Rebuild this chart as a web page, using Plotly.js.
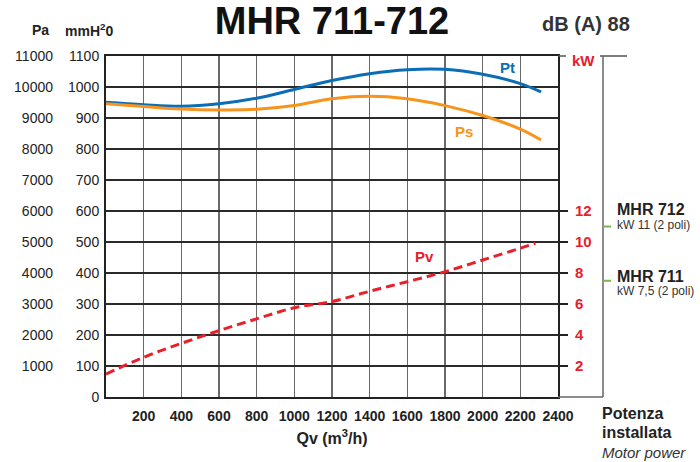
<!DOCTYPE html>
<html><head><meta charset="utf-8">
<script src="https://cdn.plot.ly/plotly-3.0.1.min.js"></script>
<style>html,body{margin:0;padding:0;background:#fff}#c{width:700px;height:462px}</style>
</head><body><div id="c"></div>
<script>
// ---- data ----
const flowP = [0, 200, 400, 600, 800, 1000, 1200, 1400, 1600, 1800, 2000, 2200, 2310];
const ptVals = [951, 943, 938, 946, 964, 992, 1021, 1043, 1056, 1057, 1041, 1011, 984];
const psVals = [946, 937, 929, 926, 928, 940, 962, 970, 962, 940, 908, 864, 829];
const flowPv = [0, 200, 400, 600, 800, 1000, 1200, 1400, 1600, 1800, 2000, 2200, 2280];
const pvVals = [74, 128, 173, 214, 252, 288, 308, 341, 372, 404, 442, 480, 496];
const xTicks = [200, 400, 600, 800, 1000, 1200, 1400, 1600, 1800, 2000, 2200, 2400];
const mmTicks = [0, 100, 200, 300, 400, 500, 600, 700, 800, 900, 1000, 1100];
const paTicks = [1000, 2000, 3000, 4000, 5000, 6000, 7000, 8000, 9000, 10000, 11000];
const kwTicks = [2, 4, 6, 8, 10, 12];
const motorNames = ['MHR 712', 'MHR 711'];
const motorPower = ['kW 11 (2 poli)', 'kW 7,5 (2 poli)'];
const motorKw = [11, 7.5];

// ---- geometry helpers ----
const W = 700, H = 462, MT = 56, MB = 65;
const PH = H - MT - MB;
const px = x => x / W;
const py = y => (H - MB - y) / PH;
const motorNameY = [209, 276];   // label placement (px)
const motorPowerY = [225, 291];

const SANS = '"Liberation Sans", Arial, sans-serif';
const BLUE = '#0b6db5', ORANGE = '#f7941d', RED = '#e8202a', GREEN = '#7ab648', INK = '#222';

const traces = [
  {x: flowP, y: ptVals, type: 'scatter', mode: 'lines', line: {color: BLUE, width: 3, shape: 'spline'}, hoverinfo: 'none'},
  {x: flowP, y: psVals, type: 'scatter', mode: 'lines', line: {color: ORANGE, width: 3, shape: 'spline'}, hoverinfo: 'none'},
  {x: flowPv, y: pvVals, type: 'scatter', mode: 'lines', line: {color: RED, width: 3, dash: '9px,5px', shape: 'spline'}, hoverinfo: 'none'},
  {x: [0], y: [0], yaxis: 'y2', type: 'scatter', mode: 'markers', marker: {opacity: 0}, hoverinfo: 'none'},
  {x: [0], y: [0], yaxis: 'y3', type: 'scatter', mode: 'markers', marker: {opacity: 0}, hoverinfo: 'none'}
];

const shapes = [
  {type: 'line', xref: 'paper', yref: 'paper', x0: px(558), x1: px(566), y0: 1, y1: 1, line: {color: '#555', width: 1.5}},
  {type: 'line', xref: 'paper', yref: 'paper', x0: px(600), x1: px(627), y0: 1, y1: 1, line: {color: '#555', width: 1.5}},
  {type: 'line', xref: 'paper', yref: 'paper', x0: px(603), x1: px(603), y0: 0, y1: 1, line: {color: '#666', width: 1.5}},
  {type: 'line', xref: 'paper', yref: 'paper', x0: px(558), x1: px(603), y0: 0, y1: 0, line: {color: '#666', width: 1.5}}
];
motorKw.forEach(k => {
  shapes.push({type: 'line', xref: 'paper', yref: 'y3', x0: px(603), x1: px(611), y0: k, y1: k, line: {color: GREEN, width: 2}});
});

function txt(text, x, y, size, color, opts) {
  return Object.assign({text: text, x: px(x), y: py(y), xref: 'paper', yref: 'paper', xanchor: 'center', yanchor: 'middle',
    showarrow: false, font: {family: SANS, size: size, color: color, weight: 'bold'}}, opts || {});
}

const annotations = [
  txt('Pa', 40, 30, 14, INK),
  txt('mmH<sup>2</sup>0', 89, 30, 14, INK),
  txt('dB (A) 88', 586, 24, 20, '#333'),
  txt('kW', 583, 60, 15, RED),
  {text: 'Pt', x: 2130, y: 1064, xref: 'x', yref: 'y', showarrow: false, font: {family: SANS, size: 15, color: BLUE, weight: 'bold'}},
  {text: 'Ps', x: 1900, y: 857, xref: 'x', yref: 'y', showarrow: false, font: {family: SANS, size: 15, color: ORANGE, weight: 'bold'}},
  {text: 'Pv', x: 1690, y: 453, xref: 'x', yref: 'y', showarrow: false, font: {family: SANS, size: 15, color: RED, weight: 'bold'}},
  txt('Potenza', 600, 413, 16, INK, {xanchor: 'left'}),
  txt('installata', 600, 433, 16, INK, {xanchor: 'left'}),
  txt('<i>Motor power</i>', 600, 452, 15, '#333', {xanchor: 'left', font: {family: SANS, size: 15, color: '#333'}})
];
motorNames.forEach((n, i) => {
  annotations.push(txt(n, 615, motorNameY[i], 16, INK, {xanchor: 'left'}));
  annotations.push(txt(motorPower[i], 615, motorPowerY[i], 12, '#333', {xanchor: 'left', font: {family: SANS, size: 12, color: '#333'}}));
});

const layout = {
  width: W, height: H,
  margin: {l: 0, r: 0, t: MT, b: MB, pad: 0},
  paper_bgcolor: '#fff', plot_bgcolor: '#fff',
  showlegend: false,
  title: {text: 'MHR 711-712', x: px(332), xanchor: 'center', xref: 'paper', y: 1 - 21 / H, yanchor: 'middle', yref: 'container',
    font: {family: SANS, size: 38, color: '#111', weight: 900}},
  xaxis: {
    domain: [px(106), px(558)], range: [0, 2400], tickvals: xTicks, ticktext: xTicks.map(String),
    showgrid: true, gridcolor: '#6a6a6a', gridwidth: 1.6, zeroline: false,
    showline: true, linecolor: INK, linewidth: 2, mirror: true, ticks: '', ticklabelstandoff: 5,
    tickfont: {family: SANS, size: 14, color: INK, weight: 'bold'},
    title: {text: 'Qv (m<sup>3</sup>/h)', standoff: 10, font: {family: SANS, size: 16, color: INK, weight: 'bold'}}
  },
  yaxis: {
    range: [0, 1100], tickvals: mmTicks, ticktext: mmTicks.map(String),
    showgrid: true, gridcolor: '#2a2a2a', gridwidth: 1.4, zeroline: false,
    showline: true, linecolor: INK, linewidth: 2, mirror: true, ticks: '', ticklabelstandoff: 2,
    tickfont: {family: SANS, size: 14, color: INK}
  },
  yaxis2: {
    range: [0, 11000], overlaying: 'y', anchor: 'free', side: 'left', position: px(53),
    tickvals: paTicks, ticktext: paTicks.map(String), showgrid: false, zeroline: false, showline: false, ticks: '',
    tickfont: {family: SANS, size: 14, color: INK}
  },
  yaxis3: {
    range: [0, 22], overlaying: 'y', anchor: 'x', side: 'right',
    tickvals: kwTicks, ticktext: kwTicks.map(String), showgrid: false, zeroline: false, showline: false,
    ticks: 'outside', ticklen: 9, tickwidth: 1.5, tickcolor: INK, ticklabelstandoff: 4,
    tickfont: {family: SANS, size: 15, color: RED, weight: 'bold'}
  },
  shapes: shapes,
  annotations: annotations
};

Plotly.newPlot('c', traces, layout, {displayModeBar: false, staticPlot: true});
</script>
</body></html>
